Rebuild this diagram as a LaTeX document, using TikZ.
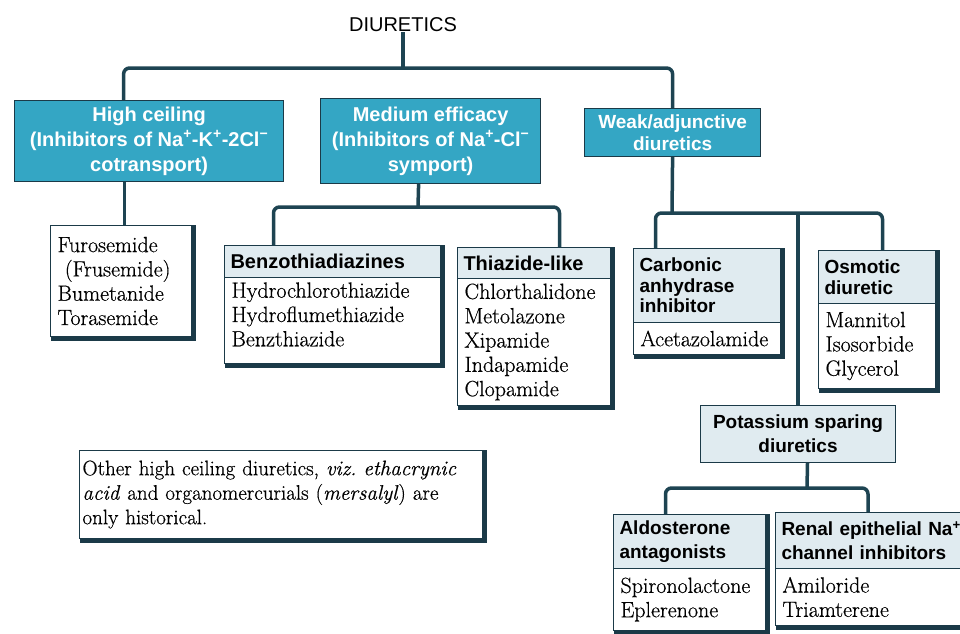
\documentclass[tikz,border=0pt]{standalone}
\usepackage{fontspec}
\newfontfamily\hsans{Liberation Sans}
\newfontfamily\bodyf{Latin Modern Roman}[FakeBold=0.5]
\definecolor{dk}{RGB}{27,58,72}
\definecolor{cn}{RGB}{30,68,82}
\definecolor{tl}{RGB}{52,166,196}
\definecolor{lt}{RGB}{224,235,240}
\newcommand\hb{\hsans\bfseries\fontsize{19}{20.5}\selectfont}
\newcommand\hbb{\hsans\bfseries\fontsize{19}{24}\selectfont}
\newcommand\bs{\bodyf\fontsize{22}{24.3}\selectfont}
\newcommand\tb{\hsans\bfseries\fontsize{20}{25}\selectfont}
\newcommand\shd[2]{\draw[shdw] ([xshift=2pt]#1.north east) -- ([xshift=2pt,yshift=-2pt]#2.south east) -- ([xshift=1pt,yshift=-2pt]#2.south west);}
\tikzset{
  hdr/.style={draw=dk, fill=lt, line width=1pt, font=\hb, inner xsep=6pt, inner ysep=0pt, align=left, anchor=north west},
  bod/.style={draw=dk, fill=white, line width=1pt, font=\bs, inner xsep=7pt, inner ysep=0pt, align=left, anchor=north west},
  tealbox/.style={draw=dk, fill=tl, line width=1.2pt, text=white, font=\tb, inner sep=0pt, align=center, anchor=north west},
  conn/.style={draw=cn, line width=3.5pt, rounded corners=6pt},
  shdw/.style={draw=dk, line width=3.2pt}
}
\begin{document}
\frenchspacing
\begin{tikzpicture}[x=1pt,y=-1pt]
\useasboundingbox (0,0) rectangle (960,633);
\fill[white] (0,0) rectangle (960,633);

% title
\node[font=\hsans\fontsize{20}{24}\selectfont, inner sep=0pt] (diu) at (403,25) {DIURETICS};

% first level
\node[tealbox, minimum width=269, minimum height=81] (hc) at (14,100)
  {High ceiling\\(Inhibitors of Na\textsuperscript{+}-K\textsuperscript{+}-2Cl\textsuperscript{−}\\cotransport)};
\node[tealbox, minimum width=220, minimum height=85] (med) at (320,98)
  {Medium efficacy\\(Inhibitors of Na\textsuperscript{+}-Cl\textsuperscript{−}\\symport)};
\node[tealbox, minimum width=176, minimum height=48, font=\hsans\bfseries\fontsize{19}{22}\selectfont] (weak) at (584,108)
  {Weak/adjunctive\\diuretics};

% high ceiling drugs
\node[bod, text width=127, minimum height=111] (furo) at (50,225)
  {Furosemide\\\ (Frusemide)\\Bumetanide\\Torasemide};

% medium efficacy
\node[hdr, text width=204, minimum height=32, font=\hsans\bfseries\fontsize{20}{22}\selectfont] (benzh) at (224,245) {Benzothiadiazines};
\node[bod, text width=202, minimum height=86] (benzb) at (224,277)
  {Hydrochlorothiazide\\Hydroflumethiazide\\Benzthiazide\\[-12pt]\mbox{}};
\node[hdr, text width=141, minimum height=31, font=\hsans\bfseries\fontsize{20}{22}\selectfont] (thzh) at (457,247) {Thiazide-like};
\node[bod, text width=139, minimum height=127] (thzb) at (457,278)
  {Chlorthalidone\\Metolazone\\Xipamide\\Indapamide\\Clopamide};

% weak/adjunctive
\node[hdr, text width=135, minimum height=74] (carbh) at (633,248) {Carbonic\\anhydrase\\inhibitor};
\node[bod, text width=133, minimum height=32] (carbb) at (633,322) {Acetazolamide};
\node[hdr, text width=105, minimum height=53] (osmh) at (818,250) {Osmotic\\diuretic};
\node[bod, text width=103, minimum height=85] (osmb) at (818,303) {Mannitol\\Isosorbide\\Glycerol};

\node[hdr, minimum width=195, minimum height=57, font=\hbb, align=center] (pot) at (700,405) {Potassium sparing\\diuretics};

\node[hdr, text width=140, minimum height=54, font=\hbb] (aldh) at (613,514) {Aldosterone\\antagonists};
\node[bod, text width=138, minimum height=62] (aldb) at (613,568) {Spironolactone\\Eplerenone};
\node[hdr, text width=205, minimum height=56, font=\hbb] (renh) at (775,512) {Renal epithelial Na\textsuperscript{+}\\channel inhibitors};
\node[bod, text width=203, minimum height=57] (renb) at (775,568) {Amiloride\\Triamterene};

% note
\node[bod, text width=397, minimum height=88, font=\bodyf\fontsize{21}{24.5}\selectfont, inner xsep=3pt] (note) at (79,450)
  {Other high ceiling diuretics, \textit{viz. ethacrynic}\\\textit{acid} and organomercurials (\textit{mersalyl}) are\\only historical.};

% shadows
\shd{furo}{furo}
\shd{benzh}{benzb}
\shd{thzh}{thzb}
\shd{carbh}{carbb}
\shd{osmh}{osmb}
\shd{aldh}{aldb}
\shd{renh}{renb}
\shd{note}{note}

% connectors
\coordinate (j0) at (403,68);
\draw[conn] (diu.south) -- (j0);
\draw[conn] ([xshift=-25.5pt]hc.north) |- (j0) -| (weak.north);
\draw[conn] ([xshift=-24.5pt]hc.south) -- ([xshift=-24.5pt]hc.south |- furo.north);

\coordinate (j1) at (418,207);
\draw[conn] ([xshift=-12pt]med.south) -- (j1);
\draw[conn] ([xshift=-59pt]benzh.north) |- (j1) -| ([xshift=25.5pt]thzh.north);

\coordinate (j2) at (672,213);
\draw[conn] (weak.south) -- (j2);
\draw[conn] ([xshift=-51.5pt]carbh.north) |- (j2) -| ([xshift=5.5pt]osmh.north);
\draw[conn] (pot.north) -- (pot.north |- j2);

\coordinate (j3) at (807,488);
\draw[conn] ([xshift=9.5pt]pot.south) -- (j3);
\draw[conn] ([xshift=-24pt]aldh.north) |- (j3) -| ([xshift=-16pt]renh.north);
\end{tikzpicture}
\end{document}
